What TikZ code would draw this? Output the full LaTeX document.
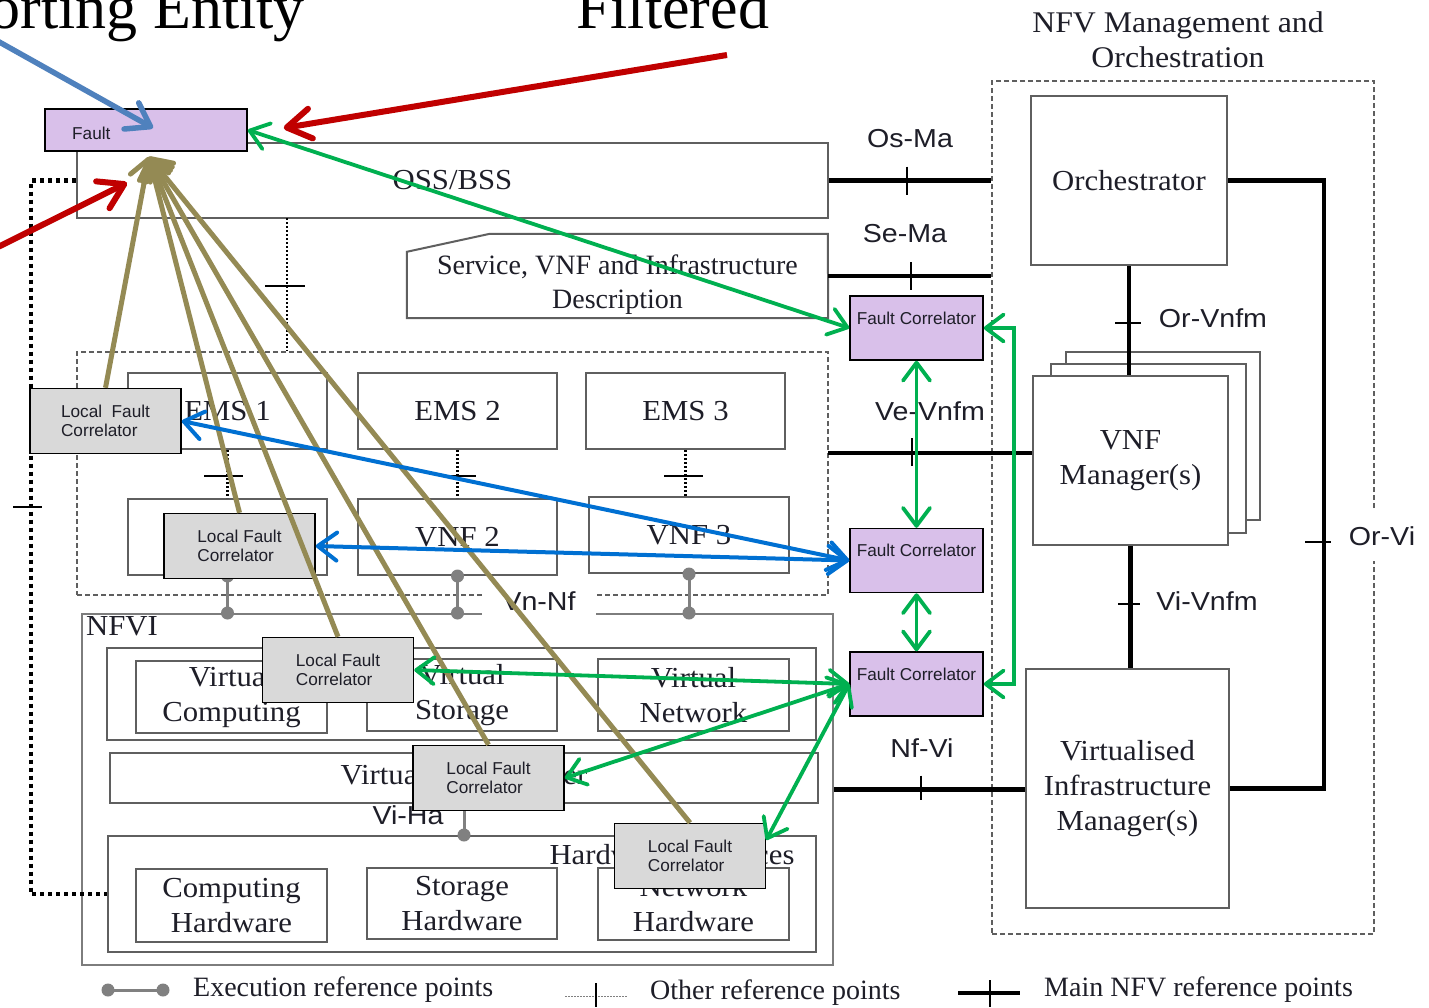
\documentclass[tikz,border=0pt]{standalone}
\usepackage{fontspec}
\setmainfont{Liberation Serif}
\setsansfont{Liberation Sans}
\newfontfamily\dser{Liberation Serif}[FakeStretch=1.06]
\newfontfamily\dsan{Liberation Sans}[FakeStretch=1.1]
\usetikzlibrary{arrows.meta,calc}

\definecolor{boxgray}{RGB}{95,95,95}
\definecolor{nfvigray}{RGB}{125,125,125}
\definecolor{execgray}{RGB}{128,128,128}
\definecolor{fcpurple}{RGB}{217,192,234}
\definecolor{lfcgray}{RGB}{217,217,217}
\definecolor{arrgreen}{RGB}{0,176,80}
\definecolor{arrblue}{RGB}{0,112,210}
\definecolor{arrlblue}{RGB}{79,129,189}
\definecolor{arrred}{RGB}{192,0,0}
\definecolor{arrolive}{RGB}{148,138,84}
\definecolor{txt}{RGB}{30,30,40}

\newcommand{\fser}{\fontsize{28}{34}\selectfont}
\newcommand{\fbx}{\dser\fontsize{29}{35}\selectfont}
\newcommand{\fsan}{\dsan\fontsize{26}{30}\selectfont}
\newcommand{\fsmall}{\sffamily\fontsize{17.2}{19.5}\selectfont}
\newcommand{\fhuge}{\fontsize{62}{70}\selectfont}

\tikzset{
  gbox/.style={draw=boxgray, line width=2pt, fill=white, inner sep=0pt, text=txt, font=\fbx, align=center},
  nbox/.style={draw=nfvigray, line width=2pt, inner sep=0pt},
  dbox/.style={draw=boxgray, line width=1.8pt, dash pattern=on 5pt off 3pt},
  fcbox/.style={draw=black, fill=fcpurple, line width=1.5pt, minimum width=133pt, minimum height=64pt, inner sep=0pt, font=\fsmall, align=center, text=txt},
  lfcbox/.style={draw=black, fill=lfcgray, line width=1.5pt, minimum width=151pt, minimum height=65pt, inner sep=0pt, font=\fsmall, align=left, text=txt},
  mainln/.style={line width=4.8pt, draw=black},
  tickln/.style={line width=2.8pt, draw=black},
  otherln/.style={line width=2.2pt, draw=black, dash pattern=on 2pt off 2pt},
  loopln/.style={line width=4.5pt, draw=black, dash pattern=on 4pt off 4pt},
  execln/.style={line width=3pt, draw=execgray},
  lbl/.style={font=\fsan, text=txt, inner sep=0pt},
  stxt/.style={font=\fser, text=txt, inner sep=0pt, align=center},
  gar/.style={draw=arrgreen, line width=3.8pt, >={Straight Barb[length=18pt,width=27pt,round]}},
  bar/.style={draw=arrblue, line width=4pt, >={Straight Barb[length=19pt,width=28pt,round]}},
  lbar/.style={draw=arrlblue, line width=5.5pt, >={Straight Barb[length=22pt,width=30pt,round]}},
  rar/.style={draw=arrred, line width=6pt, >={Straight Barb[length=24pt,width=30pt,round]}},
  oar/.style={draw=arrolive, line width=5pt, >={Straight Barb[length=18pt,width=30pt,round]}},
}

\begin{document}
\begin{tikzpicture}[x=1pt,y=-1pt]
\useasboundingbox (0,0) rectangle (1429,1007);
\fill[white] (0,0) rectangle (1429,1007);

% big headline texts (cut by the page)
\node[anchor=base east, font=\fhuge, inner sep=0pt] (rep) at (305,28) {Reporting Entity};
\node[anchor=base west, font=\fhuge, inner sep=0pt] (filt) at (576,28) {Filtered};

% OSS/BSS and descriptions
\node[gbox, minimum width=751pt, minimum height=75pt] (oss) at (452.5,180.5) {OSS/BSS};
\node[stxt, minimum width=421pt, minimum height=66pt] (svc) at (617.5,285) {Service, VNF and Infrastructure\\Description};
\draw[draw=boxgray, line width=2pt] (svc.south west) -- (svc.north west) -- ++(83,-18) -- ++(338,0) -- (svc.south east) -- cycle;

% NFV MANO
\node[dbox, minimum width=382pt, minimum height=853pt, inner sep=0pt] (mano) at (1183,507.5) {};
\node[stxt, font=\dser\fontsize{30}{35}\selectfont] (manot) at (1178,40) {NFV Management and\\Orchestration};
\node[gbox, minimum width=196pt, minimum height=169pt] (orch) at (1129,180.5) {Orchestrator};
\node[gbox, minimum width=194pt, minimum height=168pt] (vnfmb) at (1163,436) {};
\node[gbox, minimum width=195pt, minimum height=169pt] (vnfmm) at (1148.5,448.5) {};
\node[gbox, minimum width=195pt, minimum height=169pt] (vnfm) at (1130.5,460.5) {VNF\\Manager(s)};
\node[gbox, minimum width=203pt, minimum height=239pt] (vim) at (1127.5,788.5) {Virtualised\\Infrastructure\\Manager(s)};

\draw[mainln] (orch.south) -- (orch.south |- vnfm.north);
\draw[mainln] (vnfm.south) -- (vnfm.south |- vim.north);
\draw[mainln] (orch.east) -- ++(96,0) |- (vim.east);
\coordinate (tkov) at (1129,323);
\draw[tickln] ([xshift=-14pt]tkov) -- ([xshift=12pt]tkov);
\coordinate (tkvv) at (1130,604);
\draw[tickln] ([xshift=-12pt]tkvv) -- ([xshift=10pt]tkvv);
\coordinate (tkovi) at (1323,542);
\draw[tickln] ([xshift=-18pt]tkovi) -- ([xshift=8pt]tkovi);
\node[lbl] (lorv) at (1213,318) {Or-Vnfm};
\node[lbl] (lvivn) at (1207,601) {Vi-Vnfm};
\node[lbl, fill=white, inner xsep=3pt, inner ysep=15pt] (lorvi) at (1382,536) {Or-Vi};

% Os-Ma, Se-Ma
\draw[mainln] (oss.east) -- (oss.east -| mano.west);
\coordinate (tkos) at (907,180.5);
\draw[tickln] ([yshift=14pt]tkos) -- ([yshift=-14pt]tkos);
\coordinate (smL) at ([yshift=9pt]svc.east);
\draw[mainln] (smL) -- (smL -| mano.west);
\coordinate (tkse) at (911,276);
\draw[tickln] ([yshift=14pt]tkse) -- ([yshift=-14pt]tkse);
\node[lbl] (losma) at (910,139) {Os-Ma};
\node[lbl] (lsema) at (905,234) {Se-Ma};

% VNF domain
\node[dbox, minimum width=751pt, minimum height=243pt] (vnfdom) at (452.5,473.5) {};
\node[gbox, minimum width=199pt, minimum height=76pt] (ems1) at (227.5,411) {EMS 1};
\node[gbox, minimum width=199pt, minimum height=76pt] (ems2) at (457.5,411) {EMS 2};
\node[gbox, minimum width=199pt, minimum height=76pt] (ems3) at (685.5,411) {EMS 3};
\node[gbox, minimum width=199pt, minimum height=76pt] (vnf1) at (227.5,537) {};
\node[gbox, minimum width=199pt, minimum height=76pt] (vnf2) at (457.5,537) {VNF 2};
\node[gbox, minimum width=200pt, minimum height=76pt] (vnf3) at (689,535) {VNF 3};
\draw[otherln] (ems1.south) -- (vnf1.north);
\draw[otherln] (ems2.south) -- (vnf2.north);
\draw[otherln] (ems3.south) -- (ems3.south |- vnf3.north);
\coordinate (tke1) at (224,476);
\draw[tickln] ([xshift=-20pt]tke1) -- ([xshift=19pt]tke1);
\coordinate (tke2) at (460,476);
\draw[tickln] ([xshift=-16pt]tke2) -- ([xshift=16pt]tke2);
\coordinate (tke3) at (684,476);
\draw[tickln] ([xshift=-20pt]tke3) -- ([xshift=19pt]tke3);
\coordinate (ossd) at (287,218);
\draw[otherln] (ossd) -- (ossd |- vnfdom.north);
\coordinate (tkoss) at (286,286);
\draw[tickln] ([xshift=-21pt]tkoss) -- ([xshift=19pt]tkoss);

% Ve-Vnfm
\coordinate (veL) at (828,453);
\draw[mainln] (veL) -- (veL -| vnfm.west);
\coordinate (tkve) at (912,453);
\draw[tickln] ([yshift=15pt]tkve) -- ([yshift=-13pt]tkve);
\node[lbl] (lvevn) at (930,411) {Ve-Vnfm};

% NFVI
\node[nbox, minimum width=751pt, minimum height=351pt] (nfvi) at (457.5,789.5) {};
\node[stxt, font=\fbx, anchor=north west] (nfvil) at (86,616) {NFVI};
\node[gbox, minimum width=709pt, minimum height=92pt] (virtres) at (461.5,694) {};
\node[gbox, minimum width=191pt, minimum height=72pt] (vcomp) at (231.5,697) {Virtual\\Computing};
\node[gbox, minimum width=190pt, minimum height=72pt] (vstor) at (462,695) {Virtual\\Storage};
\node[gbox, minimum width=191pt, minimum height=72pt] (vnet) at (693.5,695) {Virtual\\Network};
\node[gbox, minimum width=708pt, minimum height=50pt] (virt) at (464,778) {Virtualisation Layer};
\node[gbox, minimum width=708pt, minimum height=116pt] (hwres) at (462,894) {};
\node[stxt, font=\fbx] (hwl) at (672,855) {Hardware resources};
\node[gbox, minimum width=191pt, minimum height=73pt] (chw) at (231.5,905.5) {Computing\\Hardware};
\node[gbox, minimum width=190pt, minimum height=71pt] (shw) at (462,903.5) {Storage\\Hardware};
\node[gbox, minimum width=191pt, minimum height=72pt] (nhw) at (693.5,904) {Network\\Hardware};

% Nf-Vi
\draw[mainln] (nfvi.east) -- (nfvi.east -| vim.west);
\coordinate (tknf) at (921,789.5);
\draw[tickln] ([yshift=14pt]tknf) -- ([yshift=-10pt]tknf);
\node[lbl] (lnfvi) at (922,748) {Nf-Vi};

% execution reference points
\foreach \v in {vnf1,vnf2,vnf3}{
  \draw[execln] (\v.south) -- (\v.south |- nfvi.north);
  \fill[execgray] (\v.south) circle[radius=6.5pt];
  \fill[execgray] (\v.south |- nfvi.north) circle[radius=6.5pt];
}
\draw[execln] (virt.south) -- (virt.south |- hwres.north);
\fill[execgray] (virt.south |- hwres.north) circle[radius=6.5pt];
\node[lbl] (lviha) at (408,815) {Vi-Ha};
\node[lbl, fill=white, inner xsep=20pt, inner ysep=8pt] (lvnnf) at (539,601) {Vn-Nf};

% left dotted loop
\draw[loopln] (oss.west) -- ++(-45,0) |- (hwres.west);
\coordinate (tkl) at (32,507);
\draw[tickln] ([xshift=-19pt]tkl) -- ([xshift=10pt]tkl);

% legend
\coordinate (lgA) at (108,990);
\coordinate (lgB) at (163,990);
\draw[execln] (lgA) -- (lgB);
\fill[execgray] (lgA) circle[radius=6.5pt];
\fill[execgray] (lgB) circle[radius=6.5pt];
\node[stxt, anchor=west] (lgt1) at (193,990) {Execution reference points};
\coordinate (lgC) at (565,996);
\coordinate (lgD) at (628,996);
\draw[line width=1pt, draw=gray, dash pattern=on 1.5pt off 1.5pt] (lgC) -- (lgD);
\coordinate (lgtk) at (596,996);
\draw[line width=1.8pt] ([yshift=13pt]lgtk) -- ([yshift=-11pt]lgtk);
\node[stxt, anchor=west] (lgt2) at (650,993) {Other reference points};
\coordinate (lgE) at (958,993);
\coordinate (lgF) at (1020,993);
\draw[mainln] (lgE) -- (lgF);
\coordinate (lgtk2) at (990,993);
\draw[tickln] ([yshift=13pt]lgtk2) -- ([yshift=-14pt]lgtk2);
\node[stxt, anchor=west] (lgt3) at (1044,990) {Main NFV reference points};

% fault correlators
\node[fcbox] (fc1) at (916.5,328) {Fault Correlator\\\mbox{}};
\node[fcbox] (fc2) at (916.5,560.5) {Fault Correlator\\\mbox{}};
\node[fcbox] (fc3) at (916.5,684) {Fault Correlator\\\mbox{}};
\node[lfcbox] (lfc1) at (105.5,421) {Local\ \ Fault\\Correlator};
\node[lfcbox] (lfc2) at (239.5,546) {Local Fault\\Correlator};
\node[lfcbox] (lfc3) at (338,670) {Local Fault\\Correlator};
\node[lfcbox] (lfc4) at (488.5,778) {Local Fault\\Correlator};
\node[lfcbox] (lfc5) at (690,856) {Local Fault\\Correlator};
\node[draw=black, fill=fcpurple, line width=1.5pt, minimum width=202pt, minimum height=42pt, inner sep=0pt] (fault) at (146,130) {};
\node[anchor=west, font=\fsmall, text=txt, inner sep=0pt] (faultt) at (72,133) {Fault};

% olive report arrows
\coordinate (fin) at ([xshift=3pt,yshift=-5pt]fault.south);
\foreach \l in {lfc1,lfc2,lfc3,lfc4,lfc5}{
  \draw[oar,->] (\l.north) -- (fin);
}

% green arrows
\draw[gar,<->] (fault.east) -- (fc1.west);
\draw[gar,<->] (fc1.south) -- (fc2.north);
\draw[gar,<->] (fc2.south) -- (fc3.north);
\draw[gar,<->] (fc1.east) -- ++(30,0) |- (fc3.east);
\draw[gar,<->] (lfc3.east) -- (fc3.west);
\draw[gar,<->] (lfc4.east) -- (fc3.west);
\draw[gar,<->] ([yshift=16pt]lfc5.east) -- (fc3.west);

% blue arrows
\draw[bar,<->] (lfc1.east) -- (fc2.west);
\draw[bar,<->] (lfc2.east) -- (fc2.west);
\coordinate (bs) at (-15,34);
\draw[lbar,->] (bs) -- ([xshift=7pt,yshift=2pt]fault.center);

% red arrows
\coordinate (rs1) at (727,55);
\draw[rar,->] (rs1) -- ([xshift=36pt,yshift=2pt]fault.east);
\coordinate (rs2) at (-8,250);
\draw[rar,->] (rs2) -- ([xshift=-19pt,yshift=-31pt]fault.south);
\end{tikzpicture}
\end{document}
